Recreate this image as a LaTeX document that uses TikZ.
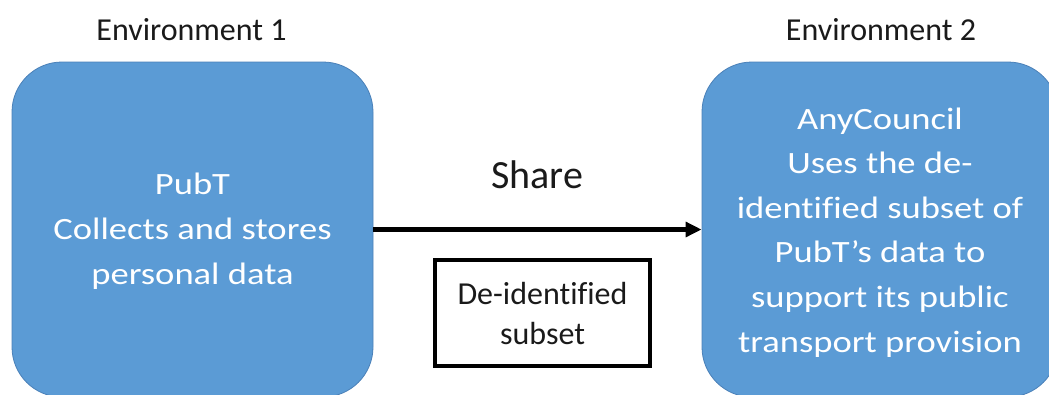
\documentclass[tikz,border=0pt]{standalone}
\usepackage{fontspec}
\setmainfont{Carlito}[Ligatures=NoCommon]
\newfontfamily\boxfont{Carlito}[FakeStretch=1.18, Ligatures=NoCommon]
\usetikzlibrary{arrows.meta}
\definecolor{envblue}{HTML}{5B9BD5}
\definecolor{envedge}{HTML}{4A80B8}
\definecolor{ink}{HTML}{1A1A1A}
\tikzset{
  envbox/.style={draw=envedge, line width=0.6pt, fill=envblue, rounded corners=37.5pt,
    minimum height=251.25pt, inner sep=0pt},
  envtext/.style={text=white, align=center, anchor=base,
    font=\boxfont\fontsize{23.25pt}{33.4pt}\selectfont},
  title/.style={text=ink, anchor=base, font=\fontsize{24pt}{28pt}\selectfont},
  subsetbox/.style={draw=black, line width=3pt, minimum width=161.25pt, minimum height=79.5pt,
    align=center, inner sep=0pt, text=ink, font=\fontsize{24pt}{30pt}\selectfont},
  sharearrow/.style={draw=black, line width=3.4pt, -{Triangle[length=12pt,width=11pt]}}
}
\begin{document}
\begin{tikzpicture}[x=0.75pt, y=-0.75pt]
  \useasboundingbox (0,0) rectangle (1049,394);
  \clip (0,0) rectangle (1049,394);

  % the two environments
  \node[envbox, minimum width=270.75pt] (pub) at (192.5,229.5) {};
  \node[envbox, minimum width=267pt] (anyc) at (880,229.5) {};

  \node[title] (env1) at (191.5,40) {Environment 1};
  \node[title] (env2) at (881,40) {Environment 2};

  % multi-line texts sit on the baseline of their last line
  \node[envtext] (pubtext) at (192.5,284) {PubT\\Collects and stores\\personal data};
  \node[envtext] (anyctext) at (880,352) {AnyCouncil\\Uses the de-\\identified subset of\\PubT’s data to\\support its public\\transport provision};

  % data flow between them
  \draw[sharearrow] (pub.east) -- (anyc.west);
  \node[text=ink, anchor=base, font=\fontsize{30pt}{34pt}\selectfont] (share) at (537,188) {Share};
  \node[subsetbox] (subset) at (542.5,313) {De-identified\\subset};
\end{tikzpicture}
\end{document}
